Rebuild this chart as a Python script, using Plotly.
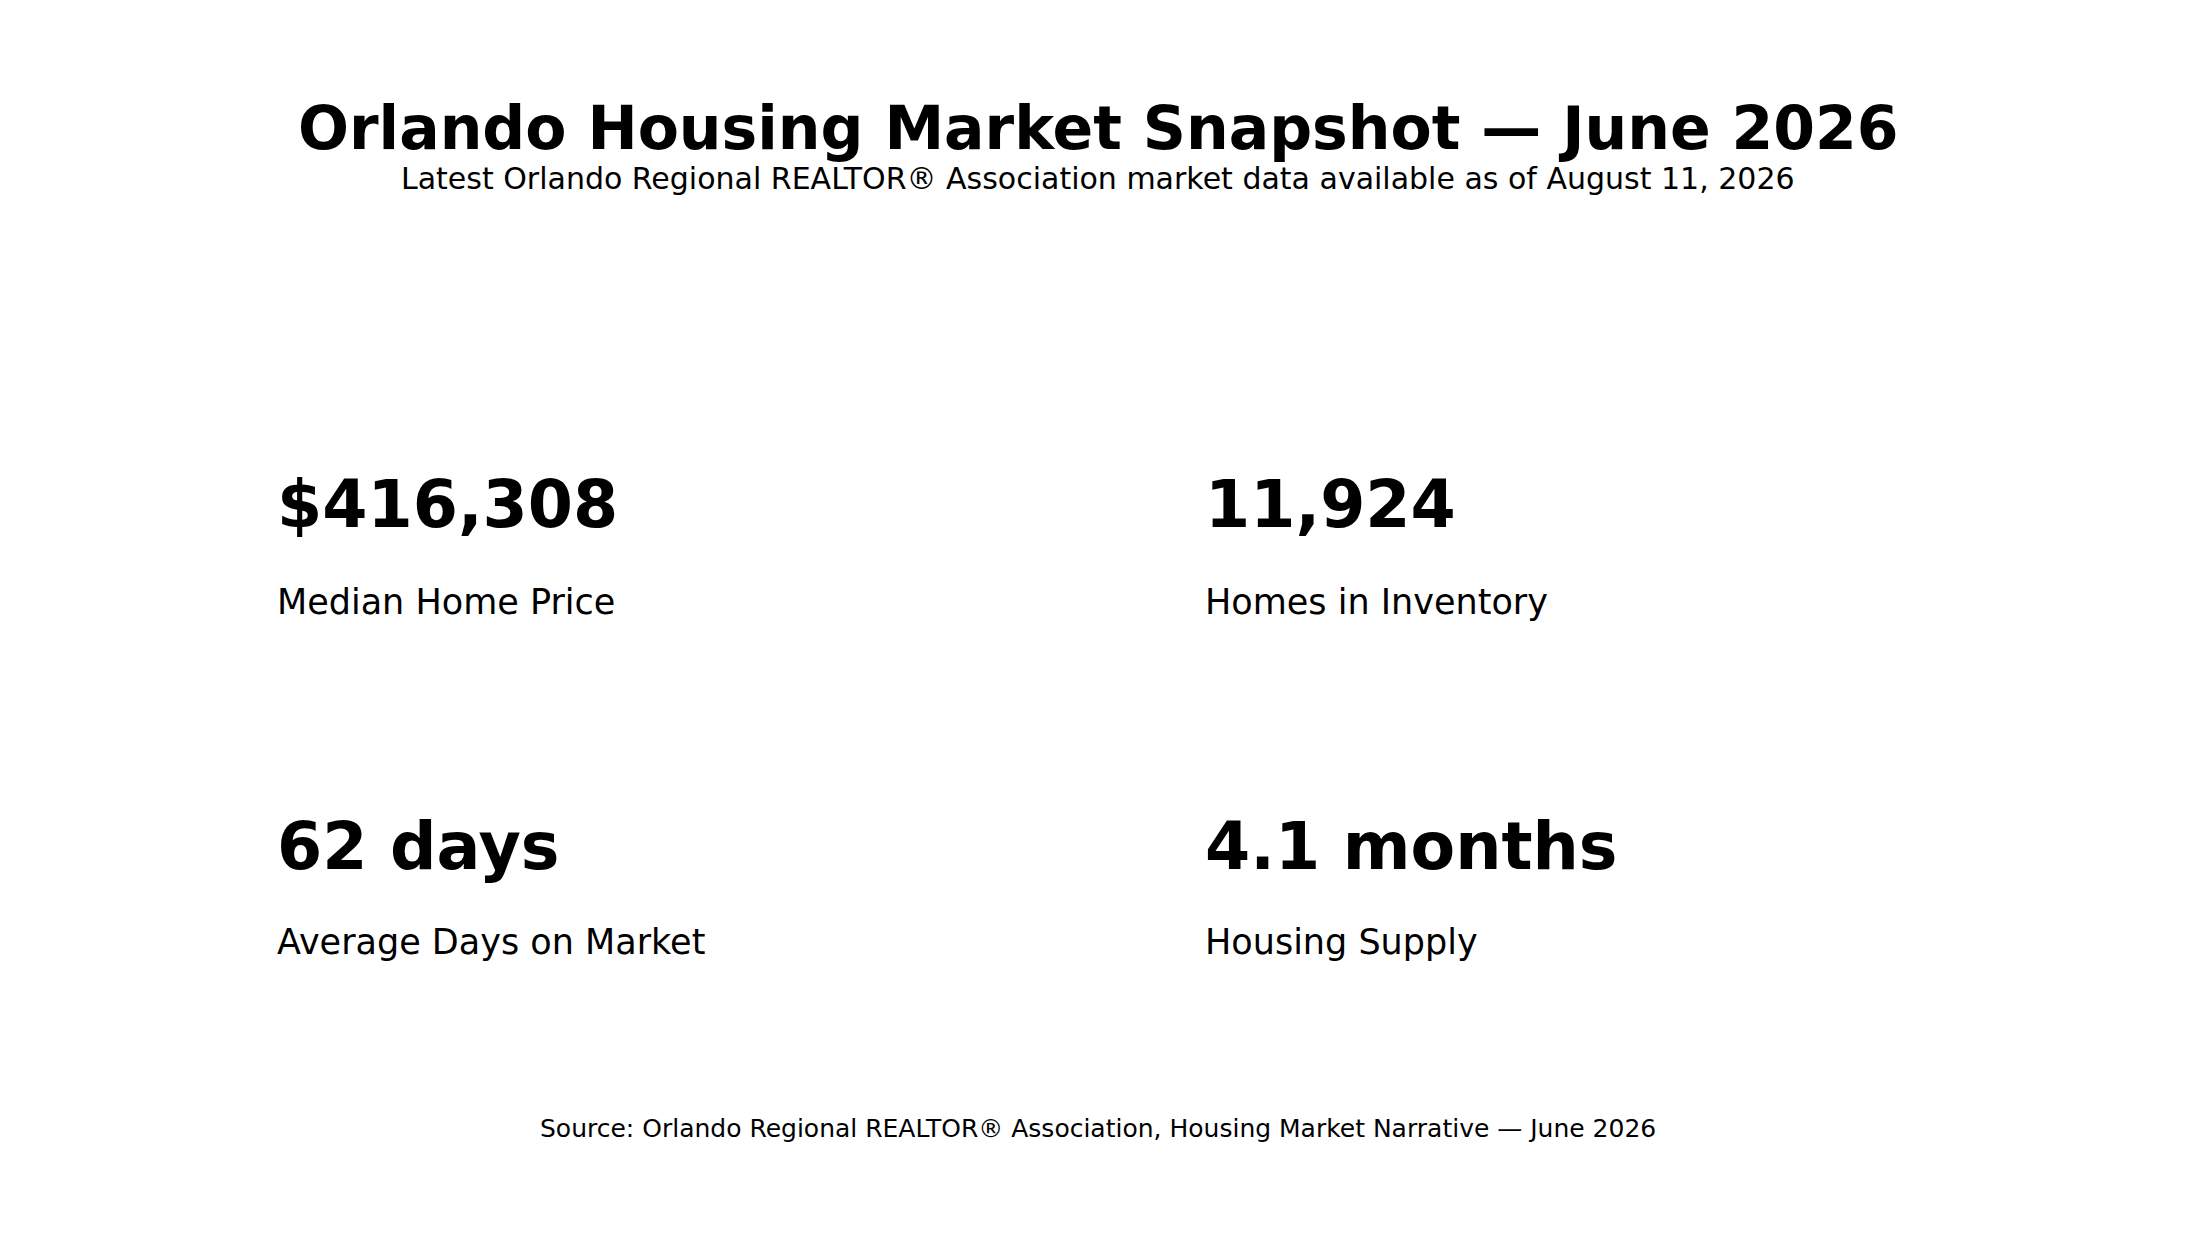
import plotly.graph_objects as go

W, H = 2196, 1250

title_text = "Orlando Housing Market Snapshot — June 2026"
subtitle_text = "Latest Orlando Regional REALTOR® Association market data available as of August 11, 2026"
source_text = "Source: Orlando Regional REALTOR® Association, Housing Market Narrative — June 2026"

kpi_values = ["$416,308", "11,924", "62 days", "4.1 months"]
kpi_labels = ["Median Home Price", "Homes in Inventory", "Average Days on Market", "Housing Supply"]

FONT = "DejaVu Sans"

# layout positions (pixels)
center_x = 1090
col_x = [267, 1195]
row_value_y = [497, 838]
row_label_y = [594, 934]


def py(px):
    return 1 - px / H


def pxx(px):
    return px / W


annotations = [
    dict(text=f"<b>{title_text}</b>", x=pxx(center_x), y=py(120), xref="paper", yref="paper",
         xanchor="center", yanchor="middle", showarrow=False,
         font=dict(family=FONT, size=60, color="#000000")),
    dict(text=subtitle_text, x=pxx(center_x), y=py(170), xref="paper", yref="paper",
         xanchor="center", yanchor="middle", showarrow=False,
         font=dict(family=FONT, size=30, color="#000000")),
    dict(text=source_text, x=pxx(center_x), y=py(1120), xref="paper", yref="paper",
         xanchor="center", yanchor="middle", showarrow=False,
         font=dict(family=FONT, size=25, color="#000000")),
]

for i, (val, lab) in enumerate(zip(kpi_values, kpi_labels)):
    r, c = divmod(i, 2)
    annotations.append(dict(text=f"<b>{val}</b>", x=pxx(col_x[c]), y=py(row_value_y[r]),
                            xref="paper", yref="paper", xanchor="left", yanchor="middle",
                            showarrow=False, font=dict(family=FONT, size=65, color="#000000")))
    annotations.append(dict(text=lab, x=pxx(col_x[c]), y=py(row_label_y[r]),
                            xref="paper", yref="paper", xanchor="left", yanchor="middle",
                            showarrow=False, font=dict(family=FONT, size=35, color="#000000")))

fig = go.Figure()
fig.update_layout(
    width=W, height=H,
    margin=dict(l=0, r=0, t=0, b=0),
    paper_bgcolor="white", plot_bgcolor="white",
    xaxis=dict(visible=False, range=[0, 1]),
    yaxis=dict(visible=False, range=[0, 1]),
    annotations=annotations,
    showlegend=False,
)
fig.write_html("out.html")
